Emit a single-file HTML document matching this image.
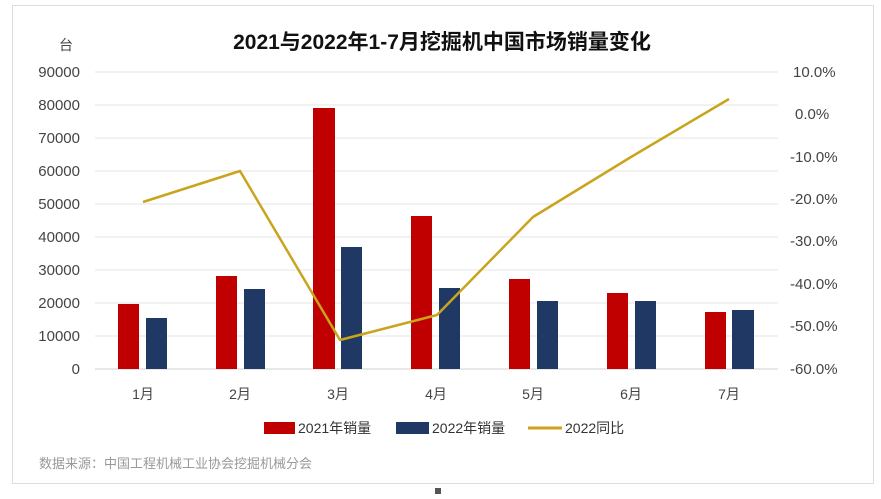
<!DOCTYPE html>
<html><head><meta charset="utf-8"><style>
body{margin:0;background:#fff;width:881px;height:494px;overflow:hidden}
svg text{font-family:"Liberation Sans","Noto Sans CJK SC",sans-serif}
</style></head><body>
<svg width="881" height="494" viewBox="0 0 881 494">
<rect x="12.5" y="5.5" width="861" height="478" fill="#fff" stroke="#ddd"/>
<text x="442" y="49" text-anchor="middle" font-size="21" font-weight="bold" fill="#111">2021与2022年1-7月挖掘机中国市场销量变化</text>
<text x="66" y="50" text-anchor="middle" font-size="14" fill="#444">台</text>
<g stroke="#e6e6e6" stroke-width="1">
<line x1="95" x2="778" y1="72" y2="72"/><line x1="95" x2="778" y1="105" y2="105"/>
<line x1="95" x2="778" y1="138" y2="138"/><line x1="95" x2="778" y1="171" y2="171"/>
<line x1="95" x2="778" y1="204" y2="204"/><line x1="95" x2="778" y1="237" y2="237"/>
<line x1="95" x2="778" y1="270" y2="270"/><line x1="95" x2="778" y1="303" y2="303"/>
<line x1="95" x2="778" y1="336" y2="336"/><line x1="95" x2="778" y1="369" y2="369" stroke="#d0d0d0"/>
</g>
<g font-size="15" fill="#444" text-anchor="end">
<text x="80" y="77">90000</text><text x="80" y="110">80000</text><text x="80" y="143">70000</text>
<text x="80" y="176">60000</text><text x="80" y="209">50000</text><text x="80" y="242">40000</text>
<text x="80" y="275">30000</text><text x="80" y="308">20000</text><text x="80" y="341">10000</text>
<text x="80" y="374">0</text>
</g>
<g font-size="15" fill="#444">
<text x="793" y="77">10.0%</text><text x="795" y="119">0.0%</text><text x="790" y="162">-10.0%</text>
<text x="790" y="204">-20.0%</text><text x="790" y="246">-30.0%</text><text x="790" y="289">-40.0%</text>
<text x="790" y="331">-50.0%</text><text x="790" y="374">-60.0%</text>
</g>
<g fill="#c00000">
<rect x="118" y="304" width="21" height="65"/><rect x="216" y="276" width="21" height="93"/>
<rect x="313" y="108" width="22" height="261"/><rect x="411" y="216" width="21" height="153"/>
<rect x="509" y="279" width="21" height="90"/><rect x="607" y="293" width="21" height="76"/>
<rect x="705" y="312" width="21" height="57"/>
</g>
<g fill="#1f3864">
<rect x="146" y="318" width="21" height="51"/><rect x="244" y="289" width="21" height="80"/>
<rect x="341" y="247" width="21" height="122"/><rect x="439" y="288" width="21" height="81"/>
<rect x="537" y="301" width="21" height="68"/><rect x="635" y="301" width="21" height="68"/>
<rect x="732" y="310" width="22" height="59"/>
</g>
<polyline points="143,202 240,171 340,340 437,315 533,217 631,157 729,99" fill="none" stroke="#c9a41c" stroke-width="2.5" stroke-linejoin="round"/>
<g font-size="14" fill="#444" text-anchor="middle">
<text x="143" y="399">1月</text><text x="240" y="399">2月</text><text x="338" y="399">3月</text>
<text x="436" y="399">4月</text><text x="533" y="399">5月</text><text x="631" y="399">6月</text>
<text x="729" y="399">7月</text>
</g>
<rect x="264" y="422" width="31" height="12" fill="#c00000"/>
<text x="298" y="433" font-size="14" fill="#333">2021年销量</text>
<rect x="396" y="422" width="33" height="12" fill="#1f3864"/>
<text x="432" y="433" font-size="14" fill="#333">2022年销量</text>
<line x1="528" x2="562" y1="428" y2="428" stroke="#c9a41c" stroke-width="3"/>
<text x="565" y="433" font-size="14" fill="#333">2022同比</text>
<text x="39" y="468" font-size="13" fill="#999">数据来源：中国工程机械工业协会挖掘机械分会</text>
<rect x="435" y="488" width="6" height="6" fill="#555"/>
</svg>
</body></html>
